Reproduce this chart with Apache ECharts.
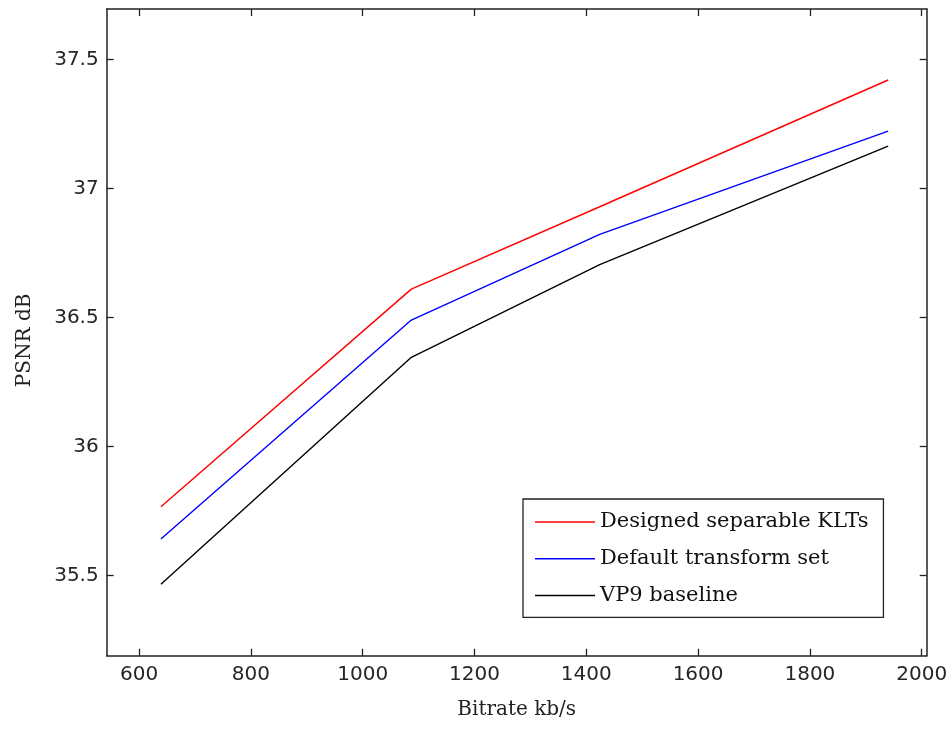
<!DOCTYPE html>
<html>
<head>
<meta charset="utf-8">
<script src="https://cdn.jsdelivr.net/npm/echarts@6/dist/echarts.min.js"></script>
<style>html,body{margin:0;padding:0;background:#fff}#c{width:951px;height:729px}</style>
</head>
<body>
<div id="c"></div>
<script>
// Data
const bitrate = [639, 1087, 1424, 1940];
const designedKLT = [35.767, 36.61, 36.929, 37.42];
const defaultSet = [35.642, 36.49, 36.822, 37.222];
const vp9Baseline = [35.467, 36.346, 36.705, 37.164];
const seriesNames = ['Designed separable KLTs', 'Default transform set', 'VP9 baseline'];
const seriesColors = ['#ff0000', '#0000ff', '#000000'];
const xTicks = [600, 800, 1000, 1200, 1400, 1600, 1800, 2000];
const yTicks = [35.5, 36, 36.5, 37, 37.5];
const yTickLabels = ['35.5', '36', '36.5', '37', '37.5'];

const xMin = 542, xMax = 2009, yMin = 35.19, yMax = 37.695;
const axisColor = '#222';
const tickFont = {fontFamily: 'DejaVu Sans', fontSize: 20, color: '#262626'};
const nameFont = {fontFamily: 'DejaVu Serif', fontSize: 20, color: '#222'};

function pairs(ys) { return bitrate.map((x, i) => [x, ys[i]]); }

const chart = echarts.init(document.getElementById('c'), null, {renderer: 'canvas'});
const baseAxisLine = {show: true, lineStyle: {color: axisColor, width: 1.5}};
chart.setOption({
  animation: false,
  backgroundColor: '#fff',
  grid: {left: 106.7, right: 24.3, top: 9, bottom: 73.3, containLabel: false},
  xAxis: [{
    type: 'value', min: xMin, max: xMax, position: 'bottom',
    name: 'Bitrate kb/s', nameLocation: 'middle', nameGap: 44, nameTextStyle: nameFont,
    axisLine: baseAxisLine,
    axisTick: {show: true, inside: true, length: 7, customValues: xTicks, lineStyle: {color: axisColor, width: 1.3}},
    axisLabel: Object.assign({show: true, margin: 9, customValues: xTicks, formatter: v => String(Math.round(v))}, tickFont),
    splitLine: {show: false}
  }, {
    type: 'value', min: xMin, max: xMax, position: 'top',
    axisLine: baseAxisLine,
    axisTick: {show: true, inside: true, length: 7, customValues: xTicks, lineStyle: {color: axisColor, width: 1.3}},
    axisLabel: {show: false},
    splitLine: {show: false}
  }],
  yAxis: [{
    type: 'value', min: yMin, max: yMax, position: 'left',
    name: 'PSNR dB', nameLocation: 'middle', nameGap: 72, nameTextStyle: Object.assign({padding: [0, 0, 0, -16]}, nameFont),
    axisLine: baseAxisLine,
    axisTick: {show: true, inside: true, length: 7, customValues: yTicks, lineStyle: {color: axisColor, width: 1.3}},
    axisLabel: Object.assign({show: true, margin: 8, customValues: yTicks,
      formatter: v => { const i = yTicks.findIndex(t => Math.abs(t - v) < 1e-6); return i >= 0 ? yTickLabels[i] : ''; }}, tickFont),
    splitLine: {show: false}
  }, {
    type: 'value', min: yMin, max: yMax, position: 'right',
    axisLine: baseAxisLine,
    axisTick: {show: true, inside: true, length: 7, customValues: yTicks, lineStyle: {color: axisColor, width: 1.3}},
    axisLabel: {show: false},
    splitLine: {show: false}
  }],
  legend: {
    orient: 'vertical', left: 523, top: 499,
    padding: [12, 15, 11, 12], itemGap: 14.7, itemWidth: 60, itemHeight: 1.5,
    icon: 'rect',
    borderColor: '#222', borderWidth: 1.3, backgroundColor: '#fff',
    textStyle: {fontFamily: 'DejaVu Serif', fontSize: 21, color: '#111', lineHeight: 22},
    data: seriesNames
  },
  series: [
    {name: seriesNames[0], type: 'line', data: pairs(designedKLT), symbol: 'none', lineStyle: {color: seriesColors[0], width: 1.4}, itemStyle: {color: seriesColors[0]}},
    {name: seriesNames[1], type: 'line', data: pairs(defaultSet), symbol: 'none', lineStyle: {color: seriesColors[1], width: 1.4}, itemStyle: {color: seriesColors[1]}},
    {name: seriesNames[2], type: 'line', data: pairs(vp9Baseline), symbol: 'none', lineStyle: {color: seriesColors[2], width: 1.4}, itemStyle: {color: seriesColors[2]}}
  ]
});
</script>
</body>
</html>
